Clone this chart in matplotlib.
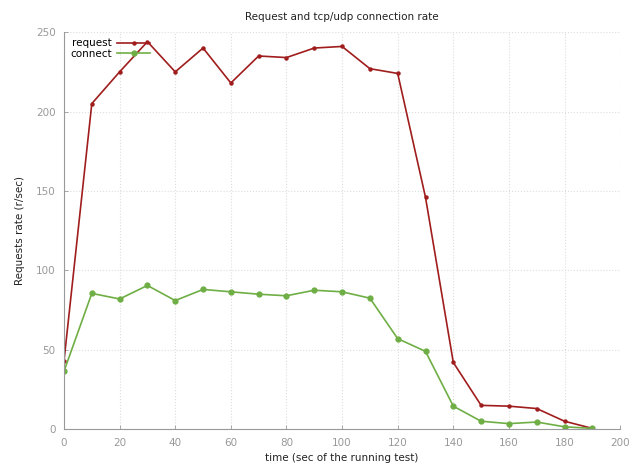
import matplotlib
matplotlib.use('Agg')
import matplotlib.pyplot as plt

# sample times (sec) and rates (r/sec)
time_s = [0, 10, 20, 30, 40, 50, 60, 70, 80, 90, 100, 110, 120, 130, 140, 150, 160, 170, 180, 190]
request = [43, 205, 225, 244, 225, 240, 218, 235, 234, 240, 241, 227, 224, 146, 42, 15, 14.5, 13, 5, 0.5]
connect = [36.5, 85.5, 82, 90.5, 81, 88, 86.5, 85, 84, 87.5, 86.5, 82.5, 57, 49, 14.5, 5, 3.5, 4.5, 1.5, 0.5]

x_ticks = [0, 20, 40, 60, 80, 100, 120, 140, 160, 180, 200]
y_ticks = [0, 50, 100, 150, 200, 250]

fig = plt.figure(figsize=(6.4, 4.66), dpi=100)
ax = fig.add_axes([0.1, 0.079, 0.869, 0.852])

ax.plot(time_s, request, color='#a01d1d', linewidth=1.2, marker='o', markersize=2.2, label='request')
ax.plot(time_s, connect, color='#6fae45', linewidth=1.2, marker='o', markersize=3.5, label='connect')

ax.set_xlim(0, 200)
ax.set_ylim(0, 250)
ax.set_xticks(x_ticks)
ax.set_yticks(y_ticks)
ax.grid(True, color='#dddddd', linestyle=':', linewidth=0.8)

for side in ['top', 'right']:
    ax.spines[side].set_visible(False)
for side in ['left', 'bottom']:
    ax.spines[side].set_color('#999999')
    ax.spines[side].set_linewidth(0.8)

ax.tick_params(colors='#999999', labelsize=7.5, length=3, width=0.6, direction='in', pad=6)

ax.set_title('Request and tcp/udp connection rate', fontsize=7.5, color='#222222', pad=9)
ax.set_xlabel('time (sec of the running test)', fontsize=7.5, color='#222222', labelpad=4)
ax.set_ylabel('Requests rate (r/sec)', fontsize=7.5, color='#222222', labelpad=8)

leg = ax.legend(loc='upper left', bbox_to_anchor=(0.0, 1.0), frameon=False, fontsize=7.5,
                markerfirst=False, handlelength=3.2, handletextpad=0.5, borderaxespad=0.2,
                labelspacing=0.05)

fig.savefig('out.png', dpi=100)
